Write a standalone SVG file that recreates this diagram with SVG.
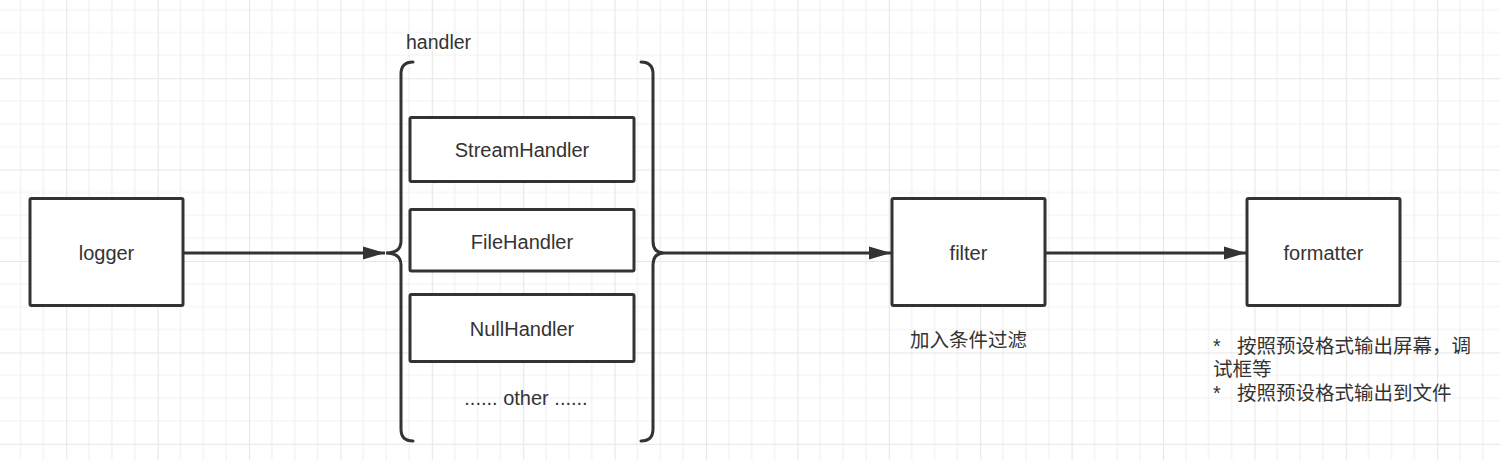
<svg xmlns="http://www.w3.org/2000/svg" width="1500" height="460" viewBox="0 0 1500 460">
  <defs>
    <pattern id="grid" patternUnits="userSpaceOnUse" x="66.2" y="78.2" width="91.4" height="91.4">
      <path d="M22.85 0V91.4M45.7 0V91.4M68.55 0V91.4M0 22.85H91.4M0 45.7H91.4M0 68.55H91.4" stroke="#f1f1f1" stroke-width="1.2" fill="none"/>
      <path d="M0.5 0V91.4M0 0.5H91.4" stroke="#e6e6e6" stroke-width="1.2" fill="none"/>
    </pattern>
    <marker id="arrow" markerUnits="userSpaceOnUse" markerWidth="24" markerHeight="14" refX="22" refY="7" orient="auto">
      <path d="M0 0.5 L22 7 L0 13.5 Z" fill="#333333"/>
    </marker>
    <style>
      .box { fill: #ffffff; stroke: #333333; stroke-width: 3; }
      .lbl { font-family: "Liberation Sans", Arial, sans-serif; font-size: 20px; fill: #333333; text-anchor: middle; }
      .txt { font-family: "Liberation Sans", "Noto Sans CJK SC", sans-serif; font-size: 19.5px; fill: #333333; }
      .conn { stroke: #333333; stroke-width: 3; fill: none; }
      .brace { stroke: #333333; stroke-width: 3; fill: none; stroke-linecap: round; }
    </style>
  </defs>

  <rect x="0" y="0" width="1500" height="460" fill="#ffffff"/>
  <rect x="0" y="0" width="1500" height="460" fill="url(#grid)"/>

  <g id="connectors">
    <path class="conn" d="M183 253 H385" marker-end="url(#arrow)"/>
    <path class="conn" d="M664 253 H891" marker-end="url(#arrow)"/>
    <path class="conn" d="M1045 253 H1246" marker-end="url(#arrow)"/>
  </g>

  <g id="logger">
    <rect class="box" x="30" y="198.5" width="153" height="107" rx="1.5"/>
    <text class="lbl" x="106.5" y="260">logger</text>
  </g>

  <g id="handler">
    <text class="txt" x="406" y="49" font-size="20">handler</text>
    <path class="brace" d="M413 62 Q401 62 401 74 V241 Q401 253 386 253 Q401 253 401 265 V429 Q401 441 413 441"/>
    <path class="brace" d="M641 62 Q653 62 653 74 V241 Q653 253 664 253 Q653 253 653 265 V429 Q653 441 641 441"/>
  </g>

  <g id="stream-handler">
    <rect class="box" x="410" y="117.5" width="224" height="64" rx="1.5"/>
    <text class="lbl" x="522" y="157">StreamHandler</text>
  </g>

  <g id="file-handler">
    <rect class="box" x="410" y="209.5" width="224" height="61.5" rx="1.5"/>
    <text class="lbl" x="522" y="248.5">FileHandler</text>
  </g>

  <g id="null-handler">
    <rect class="box" x="410" y="294.5" width="224" height="67" rx="1.5"/>
    <text class="lbl" x="522" y="336">NullHandler</text>
  </g>

  <g id="other-handler">
    <text class="lbl" x="526" y="405">...... other ......</text>
  </g>

  <g id="filter">
    <rect class="box" x="892" y="198.5" width="153" height="107" rx="1.5"/>
    <text class="lbl" x="968.5" y="260">filter</text>
    <text class="txt" x="968.5" y="347" text-anchor="middle">加入条件过滤</text>
  </g>

  <g id="formatter">
    <rect class="box" x="1247" y="198.5" width="153" height="107" rx="1.5"/>
    <text class="lbl" x="1323.5" y="260">formatter</text>
    <text class="txt"><tspan x="1213" y="353">*</tspan><tspan x="1237" y="353">按照预设格式输出屏幕，调</tspan><tspan x="1213" y="376">试框等</tspan><tspan x="1213" y="400">*</tspan><tspan x="1237" y="400">按照预设格式输出到文件</tspan></text>
  </g>
</svg>
